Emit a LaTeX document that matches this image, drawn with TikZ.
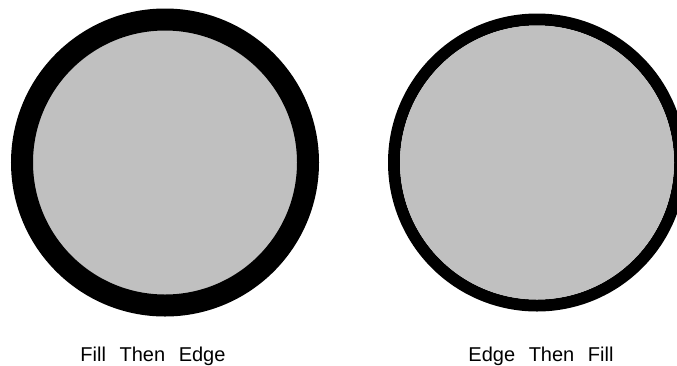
\documentclass[tikz,border=0pt]{standalone}
\usepackage{fontspec}
\setmainfont{Liberation Sans}
\definecolor{meshgray}{RGB}{192,192,192}
\begin{document}
\begin{tikzpicture}[x=1pt,y=-1pt,
  ringfill/.style={fill=meshgray},
  ringedge/.style={draw=black},
  caption/.style={anchor=base,inner sep=0pt,font=\fontsize{20}{24}\selectfont}]
\useasboundingbox (0,0) rectangle (677,365);
\clip (0,0) rectangle (677,365);
% left: fill then edge
\coordinate (lc) at (165,162.5);
\fill[ringfill] (lc) circle[radius=143];
\draw[ringedge,line width=22pt] (lc) circle[radius=143];
% right: edge then fill
\coordinate (rc) at (537,162.5);
\draw[ringedge,line width=12pt] (rc) circle[radius=143];
\fill[ringfill] (rc) circle[radius=137];
\node[caption] (lt) at (153,361) {Fill\hspace{0.68em}Then\hspace{0.68em}Edge};
\node[caption] (rt) at (541,361) {Edge\hspace{0.68em}Then\hspace{0.68em}Fill};
\end{tikzpicture}
\end{document}
